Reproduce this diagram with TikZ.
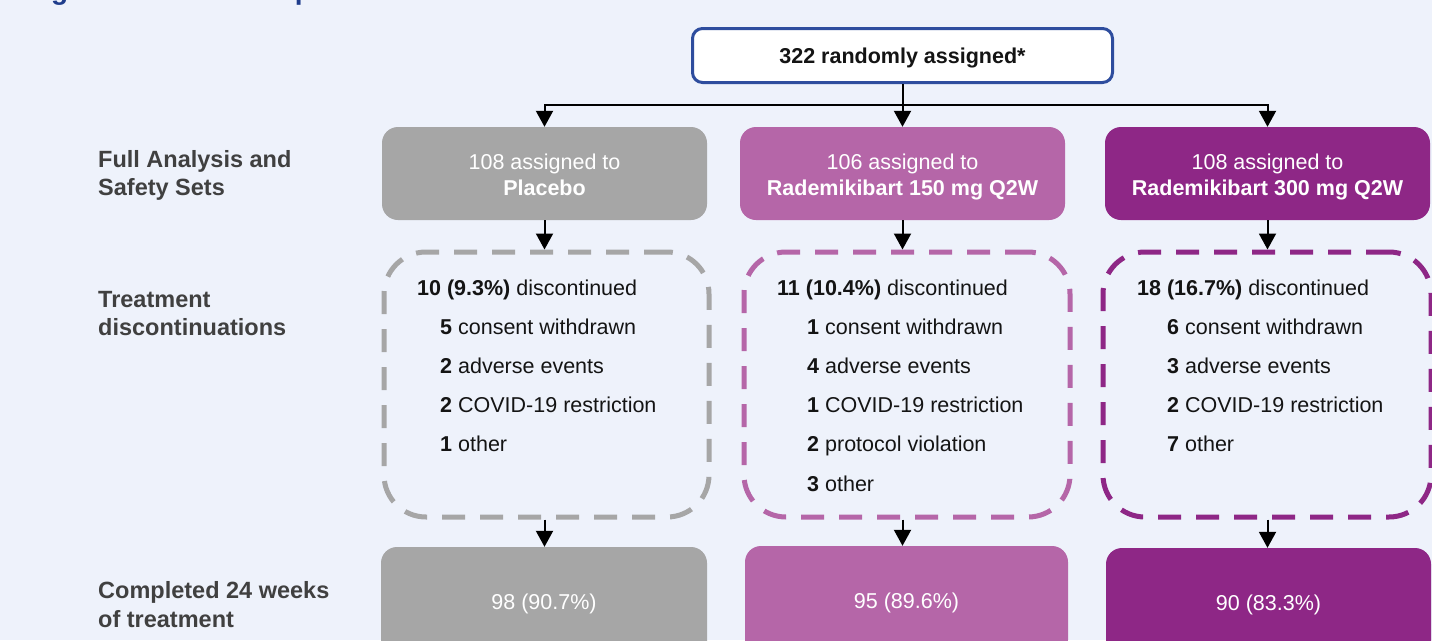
\documentclass[tikz,border=0pt]{standalone}
\usepackage{fontspec}
\setmainfont{Liberation Sans}
\usetikzlibrary{arrows.meta}
\definecolor{bg}{HTML}{EEF2FB}
\definecolor{pgray}{HTML}{A6A6A6}
\definecolor{ppink}{HTML}{B566A8}
\definecolor{ppurp}{HTML}{8E2786}
\definecolor{tblue}{HTML}{2E4D9E}
\definecolor{labc}{HTML}{404040}
\definecolor{ttl}{HTML}{1F3D8C}
\definecolor{ink}{HTML}{141414}
\begin{document}
\begin{tikzpicture}[x=1pt,y=-1pt,
  arr/.style={line width=2pt,-{Triangle[width=17pt,length=16pt]}},
  solidbox/.style={rounded corners=16pt, minimum width=325pt, minimum height=93pt, inner sep=0pt},
  boxtxt/.style={anchor=base, inner sep=0pt, text=white, font=\fontsize{21.5}{26}\selectfont},
  dbox/.style={draw, line width=5pt, dash pattern=on 23pt off 15pt, rounded corners=42pt, minimum height=265pt, inner sep=0pt},
  item/.style={anchor=base west, inner sep=0pt, text=ink, font=\fontsize{21.5}{26}\selectfont},
  side/.style={anchor=base west, inner sep=0pt, text=labc, font=\bfseries\fontsize{23.5}{28}\selectfont},
  finbox/.style={rounded corners=16pt, minimum height=110pt, inner sep=0pt, text depth=0pt, text=white, font=\fontsize{21.5}{26}\selectfont}
]
\useasboundingbox (0,0) rectangle (1432,640);
\clip (0,0) rectangle (1432,640);
\fill[bg] (0,0) rectangle (1432,640);

% cut-off title (only its descenders show, as in the reference)
\node[anchor=base west, inner sep=0pt, text=ttl, font=\bfseries\fontsize{28}{34}\selectfont] (title) at (26,-1) {Figure 1. Patient disposition};

% side labels
\node[side] (s1a) at (98,167) {Full Analysis and};
\node[side] (s1b) at (98,195) {Safety Sets};
\node[side] (s2a) at (98,307) {Treatment};
\node[side] (s2b) at (98,335) {discontinuations};
\node[side] (s3a) at (98,598) {Completed 24 weeks};
\node[side] (s3b) at (98,627) {of treatment};

% top box
\node[draw=tblue, line width=3pt, fill=white, rounded corners=10pt, minimum width=420pt, minimum height=54pt, inner sep=0pt, text depth=0pt, text=ink, font=\bfseries\fontsize{21.5}{26}\selectfont] (top) at (902.5,55.5) {322 randomly assigned*};

% arm boxes
\node[solidbox, fill=pgray] (pbo) at (544.5,173.5) {};
\node[boxtxt] (pbo1) at ([yshift=4.2pt]pbo.center) {108 assigned to};
\node[boxtxt] (pbo2) at ([yshift=-21.5pt]pbo.center) {\textbf{Placebo}};

\node[solidbox, fill=ppink] (r150) at (902.5,173.5) {};
\node[boxtxt] (r1501) at ([yshift=4.2pt]r150.center) {106 assigned to};
\node[boxtxt] (r1502) at ([yshift=-21.5pt]r150.center) {\textbf{Rademikibart 150 mg Q2W}};

\node[solidbox, fill=ppurp] (r300) at (1267.5,173.5) {};
\node[boxtxt] (r3001) at ([yshift=4.2pt]r300.center) {108 assigned to};
\node[boxtxt] (r3002) at ([yshift=-21.5pt]r300.center) {\textbf{Rademikibart 300 mg Q2W}};

% dashed boxes
\node[dbox, draw=pgray, minimum width=325pt] (dp) at (546.5,384.5) {};
\node[dbox, draw=ppink, minimum width=326pt] (dm) at (907,384.5) {};
\node[dbox, draw=ppurp, minimum width=328pt] (dr) at (1267,384.5) {};

% placebo discontinuations
\node[item] (p0) at (417,295) {\textbf{10 (9.3\%)} discontinued};
\node[item] (p1) at (440,334.2) {\textbf{5} consent withdrawn};
\node[item] (p2) at (440,373.4) {\textbf{2} adverse events};
\node[item] (p3) at (440,412.6) {\textbf{2} COVID-19 restriction};
\node[item] (p4) at (440,451.8) {\textbf{1} other};

% 150 mg discontinuations
\node[item] (m0) at (777,295) {\textbf{11 (10.4\%)} discontinued};
\node[item] (m1) at (807,334.2) {\textbf{1} consent withdrawn};
\node[item] (m2) at (807,373.4) {\textbf{4} adverse events};
\node[item] (m3) at (807,412.6) {\textbf{1} COVID-19 restriction};
\node[item] (m4) at (807,451.8) {\textbf{2} protocol violation};
\node[item] (m5) at (807,491) {\textbf{3} other};

% 300 mg discontinuations
\node[item] (q0) at (1137,295) {\textbf{18 (16.7\%)} discontinued};
\node[item] (q1) at (1167,334.2) {\textbf{6} consent withdrawn};
\node[item] (q2) at (1167,373.4) {\textbf{3} adverse events};
\node[item] (q3) at (1167,412.6) {\textbf{2} COVID-19 restriction};
\node[item] (q4) at (1167,451.8) {\textbf{7} other};

% completed boxes
\node[finbox, fill=pgray, minimum width=326pt] (bp) at (544,602) {98 (90.7\%)};
\node[finbox, fill=ppink, minimum width=323pt] (bm) at (906.5,601) {95 (89.6\%)};
\node[finbox, fill=ppurp, minimum width=325pt] (br) at (1268.5,603) {90 (83.3\%)};

% connectors
\coordinate (hy) at (0,105);
\draw[line width=2pt, line cap=rect] (pbo.north |- hy) -- (r300.north |- hy);
\draw[arr] (pbo.north |- hy) -- (pbo.north);
\draw[arr] (r300.north |- hy) -- (r300.north);
\draw[arr] (top.south) -- (r150.north);

\draw[arr] (pbo.south) -- (pbo.south |- dp.north);
\draw[arr] (r150.south) -- (r150.south |- dm.north);
\draw[arr] (r300.south) -- (r300.south |- dr.north);

\draw[arr] (pbo.south |- dp.south) -- (pbo.south |- bp.north);
\draw[arr] (r150.south |- dm.south) -- (r150.south |- bm.north);
\draw[arr] (r300.south |- dr.south) -- (r300.south |- br.north);
\end{tikzpicture}
\end{document}
